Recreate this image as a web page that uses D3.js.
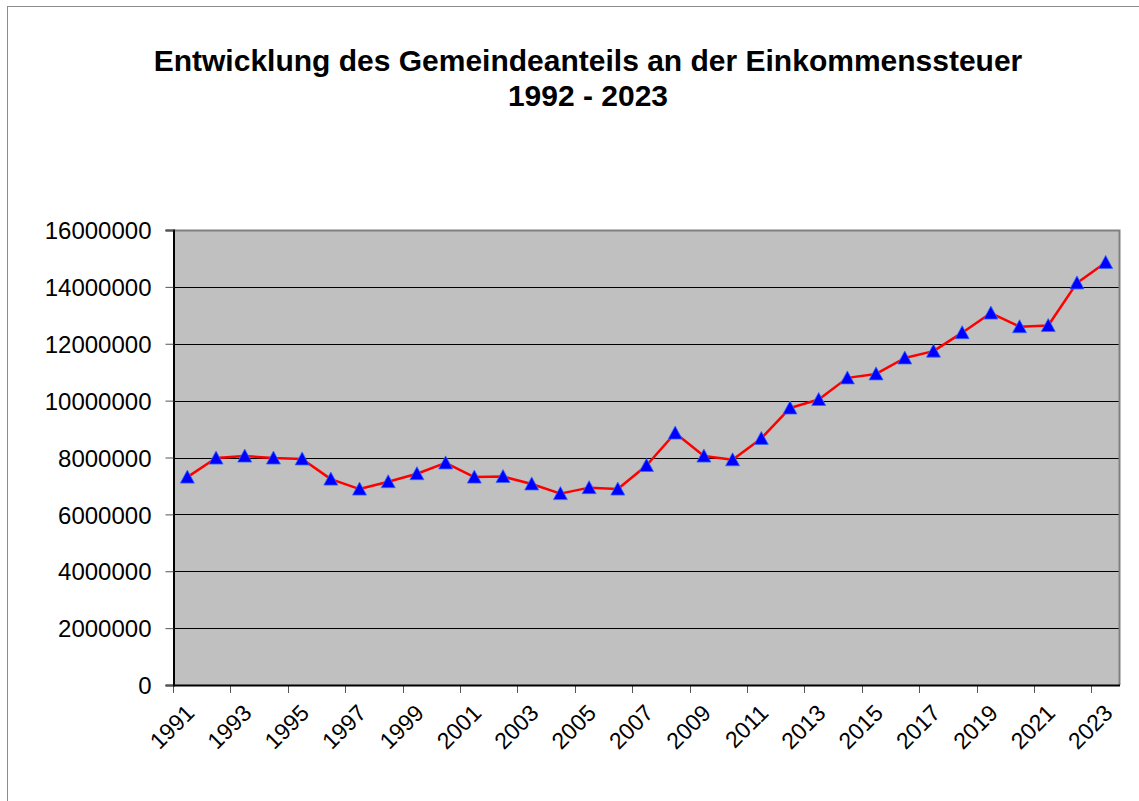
<!DOCTYPE html>
<html>
<head>
<meta charset="utf-8">
<script src="https://cdn.jsdelivr.net/npm/d3@7"></script>
<style>
  body { margin: 0; background: #fff; }
  text { font-family: "Liberation Sans", Arial, sans-serif; }
</style>
</head>
<body>
<div id="chart"></div>
<script>
// data
var years = ["1991", "1992", "1993", "1994", "1995", "1996", "1997", "1998", "1999", "2000",
    "2001", "2002", "2003", "2004", "2005", "2006", "2007", "2008", "2009", "2010",
    "2011", "2012", "2013", "2014", "2015", "2016", "2017", "2018", "2019", "2020",
    "2021", "2022", "2023"];
var values = [7310000, 7980000, 8050000, 7980000, 7950000, 7240000, 6890000, 7150000, 7430000, 7810000,
    7310000, 7330000, 7070000, 6730000, 6940000, 6890000, 7720000, 8860000, 8050000, 7920000,
    8670000, 9740000, 10040000, 10800000, 10940000, 11500000, 11740000, 12390000, 13080000, 12600000,
    12640000, 14140000, 14860000];
var yTicks = [0, 2000000, 4000000, 6000000, 8000000, 10000000, 12000000, 14000000, 16000000];
var titleLines = ["Entwicklung des Gemeindeanteils an der Einkommenssteuer", "1992 - 2023"];

var width = 1139, height = 801;
var plotLeft = 173, plotRight = 1120, plotTop = 230, plotBottom = 685;

var svg = d3.select("#chart").append("svg")
    .attr("width", width)
    .attr("height", height);

// chart area border (runs off the right/bottom edge)
svg.append("rect")
    .attr("x", 7.5).attr("y", 6.5)
    .attr("width", width + 20).attr("height", height + 20)
    .attr("fill", "#fff")
    .attr("stroke", "#8c8c8c")
    .attr("stroke-width", 1);

// title
svg.selectAll("text.title").data(titleLines).enter().append("text")
    .attr("class", "title")
    .attr("x", 588)
    .attr("y", function (d, i) { return 71 + i * 35; })
    .attr("text-anchor", "middle")
    .attr("font-size", 30)
    .attr("font-weight", "bold")
    .text(String);

// scales
var x = d3.scaleBand().domain(years).range([plotLeft, plotRight]);
var y = d3.scaleLinear().domain([0, 16000000]).range([plotBottom, plotTop]);

// plot area
svg.append("rect")
    .attr("x", plotLeft).attr("y", plotTop)
    .attr("width", plotRight - plotLeft).attr("height", plotBottom - plotTop)
    .attr("fill", "#c0c0c0");

// gridlines
svg.selectAll("line.grid").data(yTicks.slice(1, -1)).enter().append("line")
    .attr("class", "grid")
    .attr("x1", plotLeft).attr("x2", plotRight)
    .attr("y1", function (d) { return Math.round(y(d)) + 0.5; })
    .attr("y2", function (d) { return Math.round(y(d)) + 0.5; })
    .attr("stroke", "#000")
    .attr("stroke-width", 1);

// top and right border of plot area
svg.append("path")
    .attr("d", "M" + plotLeft + "," + (plotTop + 0.5) + "H" + (plotRight - 0.5) + "V" + plotBottom)
    .attr("fill", "none")
    .attr("stroke", "#808080")
    .attr("stroke-width", 2);

// y axis
var yAxis = d3.axisLeft(y).tickValues(yTicks).tickSize(8).tickPadding(14).tickFormat(d3.format("d"));
var yg = svg.append("g")
    .attr("transform", "translate(" + (plotLeft + 0.5) + ",0)")
    .call(yAxis);
yg.select(".domain").attr("stroke", "#000").attr("stroke-width", 2);
yg.selectAll(".tick line").attr("stroke", "#555");
yg.selectAll(".tick text")
    .attr("font-size", 24)
    .attr("font-family", "Liberation Sans, Arial, sans-serif")
    .attr("fill", "#000")
    .attr("dy", "0.36em");

// x axis: ticks on every second category boundary
var boundaries = d3.range(0, years.length, 2).map(function (i) { return x(years[i]); });
svg.selectAll("line.xtick").data(boundaries).enter().append("line")
    .attr("class", "xtick")
    .attr("x1", function (d) { return Math.round(d) + 0.5; })
    .attr("x2", function (d) { return Math.round(d) + 0.5; })
    .attr("y1", plotBottom).attr("y2", plotBottom + 8)
    .attr("stroke", "#555");
svg.append("line")
    .attr("x1", plotLeft).attr("x2", plotRight)
    .attr("y1", plotBottom + 0.5).attr("y2", plotBottom + 0.5)
    .attr("stroke", "#000").attr("stroke-width", 2);

var labelYears = years.filter(function (d, i) { return i % 2 === 0; });
svg.selectAll("text.xlabel").data(labelYears).enter().append("text")
    .attr("class", "xlabel")
    .attr("transform", function (d) {
        return "translate(" + (x(d) + x.bandwidth() / 2 - 3) + "," + (plotBottom + 18) + ") rotate(-45)";
    })
    .attr("text-anchor", "end")
    .attr("dy", "0.7em")
    .attr("font-size", 23)
    .text(String);

// line
var line = d3.line()
    .x(function (d, i) { return x(years[i]) + x.bandwidth() / 2; })
    .y(function (d) { return y(d); });

svg.append("path")
    .datum(values)
    .attr("d", line)
    .attr("fill", "none")
    .attr("stroke", "#ff0000")
    .attr("stroke-width", 2.5)
    .attr("stroke-linejoin", "round");

// triangle markers
svg.selectAll("path.marker").data(values).enter().append("path")
    .attr("class", "marker")
    .attr("transform", function (d, i) {
        return "translate(" + (x(years[i]) + x.bandwidth() / 2) + "," + y(d) + ")";
    })
    .attr("d", "M0,-7L7,6L-7,6Z")
    .attr("fill", "#0000ff")
    .attr("stroke", "#3366ff")
    .attr("stroke-width", 0.8);
</script>
</body>
</html>
